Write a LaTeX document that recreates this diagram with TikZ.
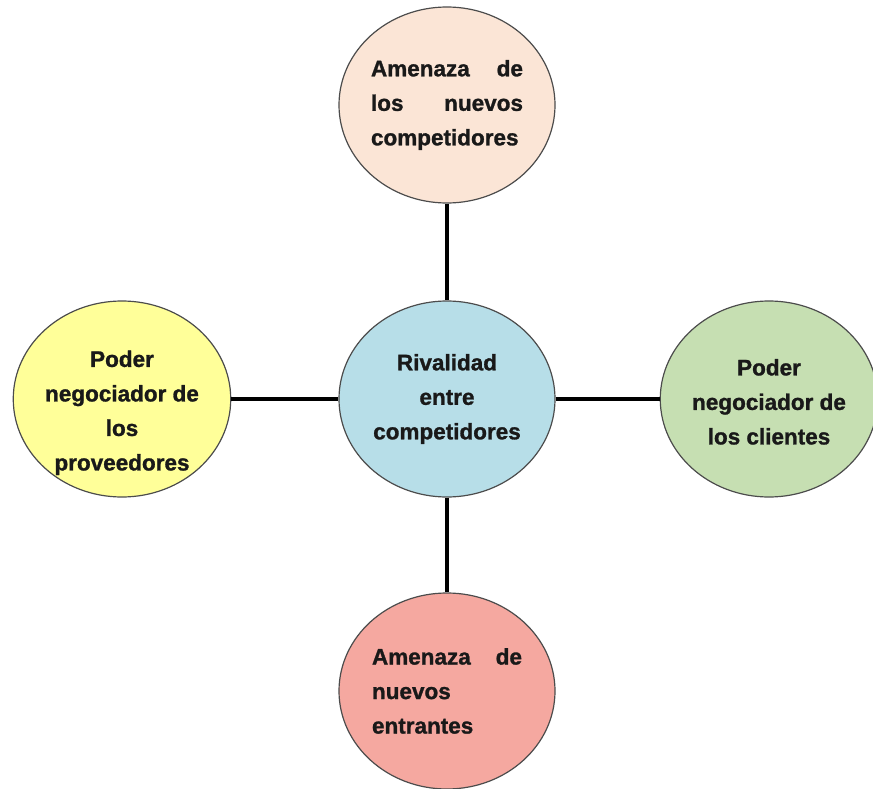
\documentclass[tikz,border=0pt]{standalone}
\usepackage{fontspec}
\setmainfont{Liberation Sans}[BoldFeatures={FakeBold=1.2}]
\usetikzlibrary{shapes.geometric,positioning}

\definecolor{peachfill}{HTML}{FBE5D6}
\definecolor{bluefill}{HTML}{B7DEE8}
\definecolor{yellowfill}{HTML}{FFFF99}
\definecolor{greenfill}{HTML}{C6DFB2}
\definecolor{salmonfill}{HTML}{F5A8A0}

\tikzset{
  force/.style={ellipse, draw=black!70, line width=1.2pt, inner sep=0pt,
    minimum width=216pt, minimum height=196pt, text=black!90,
    font=\fontsize{22.5}{34.5}\selectfont\bfseries},
  link/.style={line width=4pt}
}

\begin{document}
\begin{tikzpicture}[x=1pt,y=-1pt,on grid]
		\useasboundingbox (0,0) rectangle (873,789);
		\node[force, fill=bluefill, align=center] 	(rival) 	at (447,399) 	{Rivalidad\\entre\\competidores};
		\node[force, fill=peachfill, text width=152pt, align=left] 	(nuevos) 	[above=294pt of rival] 	{Amenaza \hfill de\\los \hfill nuevos\\competidores};
		\node[force, fill=yellowfill, align=center, inner ysep=-24pt] 	(proveedores) 	[left=325pt of rival] 	{\rule{0pt}{44pt}Poder\\negociador de\\los\\proveedores};
		\node[force, fill=greenfill, align=center] 	(clientes) 	[right=322pt of rival] 	{\rule{0pt}{22pt}Poder\\negociador de\\los clientes};
		\node[force, fill=salmonfill, text width=150pt, align=left] 	(entrantes) 	[below=292pt of rival] 	{Amenaza \hfill de\\nuevos\\entrantes};
		\draw[link]
			(nuevos.south) -- (rival.north)
			(rival.south) -- (entrantes.north)
			(proveedores.east) -- (rival.west)
			(rival.east) -- (clientes.west);
	\end{tikzpicture}
\end{document}
